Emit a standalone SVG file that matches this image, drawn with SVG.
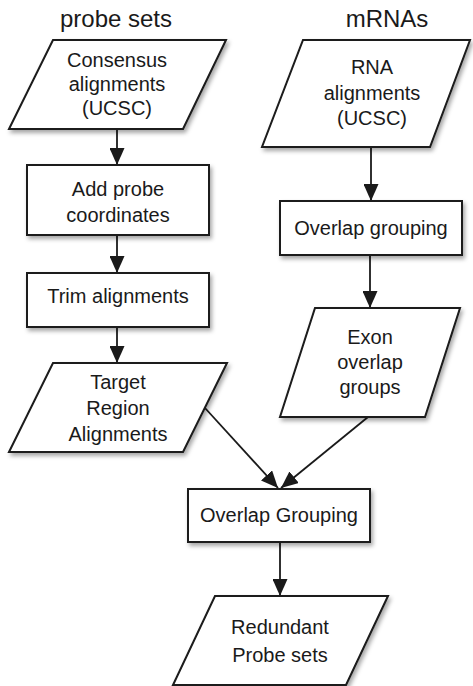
<svg xmlns="http://www.w3.org/2000/svg" width="473" height="686" viewBox="0 0 473 686">
<style>
.shape{fill:#fff;stroke:#1a1a1a;stroke-width:2;filter:url(#sh)}
.t{font-family:"Liberation Sans",Arial,sans-serif;font-size:20px;fill:#1a1a1a;text-anchor:middle}
.h{font-family:"Liberation Sans",Arial,sans-serif;font-size:24px;fill:#1a1a1a;text-anchor:middle}
.c{fill:none;stroke:#1a1a1a;stroke-width:1.8;marker-end:url(#ah)}
</style>
<defs>
<filter id="sh" x="-10%" y="-10%" width="130%" height="140%">
<feDropShadow dx="2" dy="3" stdDeviation="2" flood-color="#000" flood-opacity="0.35"/>
</filter>
<marker id="ah" markerUnits="userSpaceOnUse" markerWidth="17" markerHeight="15" viewBox="0 0 17 15" refX="17" refY="7.5" orient="auto">
<path d="M0,0 L17,7.5 L0,15 Z" fill="#1a1a1a"/>
</marker>
</defs>
<text class="h" x="116" y="27">probe sets</text>
<text class="h" x="387" y="27">mRNAs</text>
<g id="connectors">
<line class="c" x1="117" y1="129" x2="117" y2="165"/>
<line class="c" x1="117" y1="235" x2="117" y2="273"/>
<line class="c" x1="117" y1="327" x2="117" y2="363"/>
<line class="c" x1="371" y1="147" x2="371" y2="201"/>
<line class="c" x1="370" y1="255" x2="370" y2="308"/>
<line class="c" x1="205" y1="408" x2="278" y2="488"/>
<line class="c" x1="368" y1="417" x2="281" y2="488"/>
<line class="c" x1="280" y1="542" x2="280" y2="596"/>
</g>
<g id="consensus">
<polygon class="shape" points="53,40 226,40 183,129 9,129"/>
<text class="t" x="117" y="67">Consensus</text>
<text class="t" x="117" y="91">alignments</text>
<text class="t" x="117" y="115">(UCSC)</text>
</g>
<g id="addprobe">
<rect class="shape" x="27" y="165" width="182" height="70"/>
<text class="t" x="118" y="196">Add probe</text>
<text class="t" x="118" y="222">coordinates</text>
</g>
<g id="trim">
<rect class="shape" x="27" y="273" width="182" height="54"/>
<text class="t" x="118" y="303">Trim alignments</text>
</g>
<g id="target">
<polygon class="shape" points="53,363 227,363 183,452 9,452"/>
<text class="t" x="118" y="389">Target</text>
<text class="t" x="118" y="415">Region</text>
<text class="t" x="118" y="441">Alignments</text>
</g>
<g id="rna">
<polygon class="shape" points="303,40 470,40 430,147 262,147"/>
<text class="t" x="372" y="74">RNA</text>
<text class="t" x="372" y="100">alignments</text>
<text class="t" x="372" y="125">(UCSC)</text>
</g>
<g id="overlap1">
<rect class="shape" x="280" y="201" width="182" height="54"/>
<text class="t" x="371" y="235">Overlap grouping</text>
</g>
<g id="exon">
<polygon class="shape" points="315,308 460,308 425,417 280,417"/>
<text class="t" x="370" y="344">Exon</text>
<text class="t" x="370" y="369">overlap</text>
<text class="t" x="370" y="394">groups</text>
</g>
<g id="overlap2">
<rect class="shape" x="188" y="489" width="182" height="53"/>
<text class="t" x="279" y="522">Overlap Grouping</text>
</g>
<g id="redundant">
<polygon class="shape" points="215,596 388,596 346,685 173,685"/>
<text class="t" x="280" y="634">Redundant</text>
<text class="t" x="280" y="662">Probe sets</text>
</g>
</svg>
